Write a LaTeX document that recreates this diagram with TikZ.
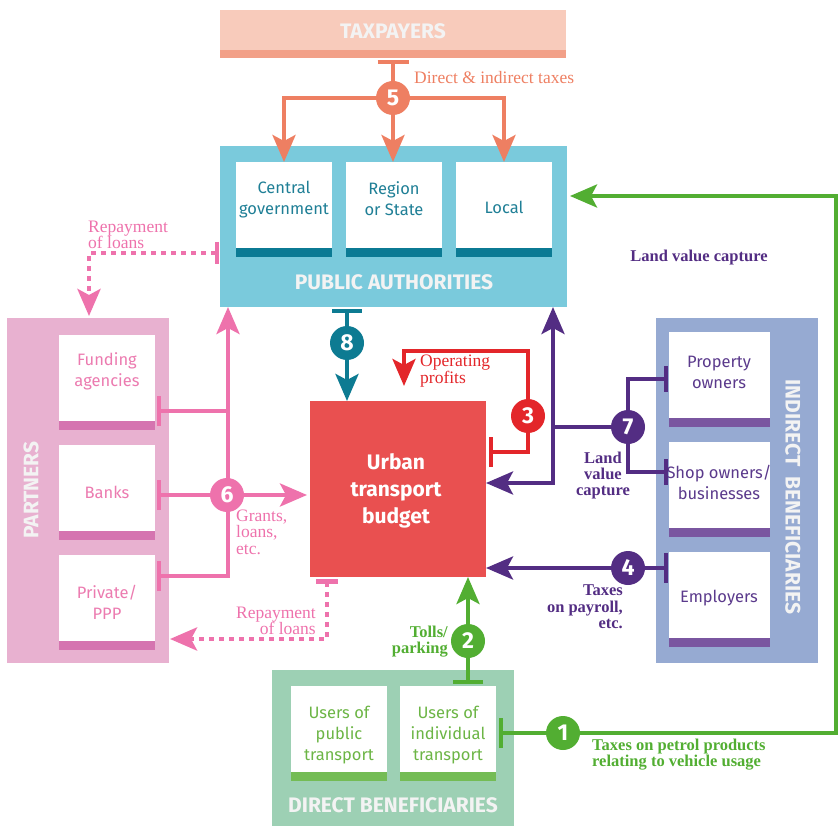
\documentclass[tikz,border=0pt]{standalone}
\usepackage{fontspec}
\setmainfont{Liberation Serif}
\setsansfont{Fira Sans}
\usetikzlibrary{arrows.meta}
\definecolor{taxfill}{HTML}{F8CBBB}
\definecolor{taxstrip}{HTML}{F2A088}
\definecolor{orangeA}{HTML}{EE7F62}
\definecolor{pubfill}{HTML}{7ACADC}
\definecolor{pubstrip}{HTML}{0B7A94}
\definecolor{pubtext}{HTML}{1F7F96}
\definecolor{tealA}{HTML}{0D7B92}
\definecolor{budgetfill}{HTML}{E95050}
\definecolor{redA}{HTML}{E3262A}
\definecolor{purpleA}{HTML}{532D83}
\definecolor{indfill}{HTML}{96AAD2}
\definecolor{indstrip}{HTML}{7A56A0}
\definecolor{indtext}{HTML}{5B3A8C}
\definecolor{greenA}{HTML}{52AE32}
\definecolor{dirfill}{HTML}{9DD0B4}
\definecolor{dirstrip}{HTML}{74BC55}
\definecolor{dirtext}{HTML}{6CB545}
\definecolor{partfill}{HTML}{E8B1D0}
\definecolor{partstrip}{HTML}{D574B0}
\definecolor{parttext}{HTML}{EC7BB0}
\definecolor{pinkA}{HTML}{EE72AC}
\definecolor{titletxt}{HTML}{F3F3F3}
\tikzset{
  >={Stealth[length=27pt,width=23pt,inset=6pt]},
  bigbox/.style={fill=#1, inner sep=0pt, outer sep=0pt, anchor=north west},
  wbox/.style={fill=white, inner sep=0pt, outer sep=0pt, anchor=north west, minimum width=96pt, minimum height=95pt},
  boxtxt/.style={text=#1, align=center, inner sep=0pt, font=\sffamily\fontsize{16.5}{21}\selectfont},
  title/.style={text=titletxt, inner sep=0pt, font=\sffamily\bfseries\fontsize{21}{22}\selectfont},
  num/.style={circle, fill=#1, text=white, minimum size=34pt, inner sep=0pt, font=\sffamily\bfseries\fontsize{23}{23}\selectfont},
  flow/.style={line width=4pt, draw=#1},
  dots/.style={line width=4.5pt, draw=#1, dash pattern=on 5pt off 5pt},
  lbl/.style={text=#1, inner sep=0pt, font=\fontsize{17.5}{16.5}\selectfont},
  blbl/.style={text=#1, inner sep=0pt, font=\bfseries\fontsize{16.5}{16}\selectfont},
}
\begin{document}
\begin{tikzpicture}[x=1pt,y=-1pt]
\useasboundingbox (0,0) rectangle (838,826);
% ---------- boxes ----------
% taxpayers
\node[bigbox=taxfill, minimum width=346pt, minimum height=48pt] (taxp) at (220,10) {};
\fill[taxstrip] ([yshift=8pt]taxp.south west) rectangle (taxp.south east);
\node[title] (ttax) at (393,31) {TAXPAYERS};
% public authorities
\node[bigbox=pubfill, minimum width=347pt, minimum height=161pt] (pub) at (220,146) {};
\node[wbox] (cg) at (236,162) {};
\node[wbox] (rs) at (346,162) {};
\node[wbox] (loc) at (456,162) {};
\foreach \b in {cg,rs,loc}{\fill[pubstrip] ([yshift=9pt]\b.south west) rectangle (\b.south east);}
\node[boxtxt=pubtext] (tcg) at (284,200) {Central\\government};
\node[boxtxt=pubtext] (trs) at (394,199) {Region\\or State};
\node[boxtxt=pubtext] (tloc) at (504,207) {Local};
\node[title] (tpub) at (394,282) {PUBLIC AUTHORITIES};
% partners
\node[bigbox=partfill, minimum width=162pt, minimum height=345pt] (part) at (7,318) {};
\node[wbox] (fund) at (59,335) {};
\node[wbox] (bank) at (59,445) {};
\node[wbox] (priv) at (59,555) {};
\foreach \b in {fund,bank,priv}{\fill[partstrip] ([yshift=9pt]\b.south west) rectangle (\b.south east);}
\node[boxtxt=parttext] (tfund) at (107,371) {Funding\\agencies};
\node[boxtxt=parttext] (tbank) at (107,492) {Banks};
\node[boxtxt=parttext] (tpriv) at (107,602) {Private/\\PPP};
\node[title, rotate=90] (tpart) at (31,490) {PARTNERS};
% indirect beneficiaries
\node[bigbox=indfill, minimum width=162pt, minimum height=345pt] (ind) at (656,318) {};
\node[wbox, minimum width=101pt] (prop) at (669,332) {};
\node[wbox, minimum width=101pt] (shop) at (669,442) {};
\node[wbox, minimum width=101pt] (empl) at (669,552) {};
\foreach \b in {prop,shop,empl}{\fill[indstrip] ([yshift=9pt]\b.south west) rectangle (\b.south east);}
\node[boxtxt=indtext] (tprop) at (719,372) {Property\\owners};
\node[boxtxt=indtext] (tshop) at (719,482) {Shop owners/\\businesses};
\node[boxtxt=indtext] (templ) at (719,598) {Employers};
\node[title, rotate=-90] (tind) at (793,497) {INDIRECT\ \ BENEFICIARIES};
% direct beneficiaries
\node[bigbox=dirfill, minimum width=242pt, minimum height=156pt] (dir) at (272,670) {};
\node[wbox] (upub) at (291,686) {};
\node[wbox] (uind) at (400,686) {};
\foreach \b in {upub,uind}{\fill[dirstrip] ([yshift=9pt]\b.south west) rectangle (\b.south east);}
\node[boxtxt=dirtext] (tupub) at (339,735) {Users of\\public\\transport};
\node[boxtxt=dirtext] (tuind) at (448,735) {Users of\\individual\\transport};
\node[title] (tdir) at (393,805) {DIRECT BENEFICIARIES};
% budget
\node[bigbox=budgetfill, minimum width=176pt, minimum height=176pt] (budget) at (310,401) {};
\node[text=white, align=center, inner sep=0pt, font=\sffamily\bfseries\fontsize{21}{27}\selectfont] (tbud) at (396,491) {Urban\\transport\\budget};
% ---------- connectors ----------
% 5 orange
\coordinate (c5p) at (393,98);
\coordinate (t5) at (393,60);
\draw[flow=orangeA,{Bar[width=31pt]}-] (t5) -- (c5p);
\draw[flow=orangeA,->] (c5p) -| (cg.north);
\draw[flow=orangeA,->] (c5p) -| (loc.north);
\draw[flow=orangeA,->] (c5p) -- (c5p |- rs.north);
\node[num=orangeA] (n5) at (c5p) {5};
% 8 teal
\coordinate (c8p) at (347,343);
\coordinate (t8) at (347,309);
\draw[flow=tealA,{Bar[width=30pt]}-] (t8) -- (c8p);
\draw[flow=tealA,->] (c8p) -- (c8p |- budget.north);
\node[num=tealA] (n8) at (c8p) {8};
% 3 red
\coordinate (t3) at (489,452);
\coordinate (r1) at (528,452);
\coordinate (r2) at (528,351);
\coordinate (r3) at (404,351);
\coordinate (r4) at (404,386);
\coordinate (c3p) at (528,416);
\draw[flow=redA,{Bar[width=30pt]}->] (t3) -- (r1) -- (r2) -- (r3) -- (r4);
\node[num=redA] (n3) at (c3p) {3};
% 7 purple
\coordinate (p0) at (553,307);
\coordinate (p1) at (553,483);
\coordinate (p2) at (486,483);
\coordinate (p3) at (553,427);
\coordinate (c7p) at (628,427);
\coordinate (t7a) at (668,379);
\coordinate (t7b) at (668,472);
\draw[flow=purpleA,<->] (p0) -- (p1) -- (p2);
\draw[flow=purpleA] (p3) -- (c7p);
\draw[flow=purpleA,-{Bar[width=26pt]}] (c7p) |- (t7a);
\draw[flow=purpleA,-{Bar[width=26pt]}] (c7p) |- (t7b);
\node[num=purpleA] (n7) at (c7p) {7};
% 4 purple
\coordinate (t4) at (668,568);
\coordinate (c4p) at (628,568);
\coordinate (e4) at (486,568);
\draw[flow=purpleA,{Bar[width=30pt]}->] (t4) -- (e4);
\node[num=purpleA] (n4) at (c4p) {4};
% 1 green
\coordinate (t1) at (499,733);
\coordinate (g1) at (836,733);
\coordinate (g2) at (836,196);
\coordinate (e1) at (570,196);
\coordinate (c1p) at (563,733);
\draw[flow=greenA,{Bar[width=30pt]}->] (t1) -- (g1) -- (g2) -- (e1);
\node[num=greenA] (n1) at (c1p) {1};
% 2 green
\coordinate (t2) at (468,684);
\coordinate (c2p) at (468,641);
\draw[flow=greenA,{Bar[width=30pt]}->] (t2) -- (t2 |- budget.south);
\node[num=greenA] (n2) at (c2p) {2};
% 6 pink
\coordinate (t6a) at (157,411);
\coordinate (t6b) at (157,495);
\coordinate (t6c) at (157,576);
\coordinate (k1) at (228,411);
\coordinate (k2) at (228,576);
\coordinate (k3) at (228,307);
\coordinate (e6) at (307,495);
\coordinate (c6p) at (227,495);
\draw[flow=pinkA,{Bar[width=30pt]}-] (t6a) -- (k1);
\draw[flow=pinkA,{Bar[width=30pt]}->] (t6c) -- (k2) -- (k3);
\draw[flow=pinkA,{Bar[width=30pt]}->] (t6b) -- (e6);
\node[num=pinkA] (n6) at (c6p) {6};
% repayment of loans (dotted)
\coordinate (d0) at (219,253);
\coordinate (d1) at (89,253);
\coordinate (d2) at (89,316);
\draw[dots=pinkA,{Bar[width=22pt]}->] (d0) -- (d1) -- (d2);
\coordinate (d3) at (327,579);
\coordinate (d4) at (327,639);
\coordinate (d5) at (170,639);
\draw[dots=pinkA,{Bar[width=22pt]}->] (d3) -- (d4) -- (d5);
% ---------- labels ----------
\node[lbl=orangeA, anchor=west] (l5) at (414,78) {Direct \& indirect taxes};
\node[lbl=redA, anchor=west, align=left] (l3) at (420,371) {Operating\\profits};
\node[blbl=purpleA] (l7a) at (699,258) {Land value capture};
\node[blbl=purpleA, align=center] (l7b) at (603,476) {Land\\value\\capture};
\node[blbl=purpleA, anchor=east, align=right, font=\bfseries\fontsize{16.5}{16.5}\selectfont] (l4) at (623,607) {Taxes\\on payroll,\\etc.};
\node[blbl=greenA, anchor=west, align=left] (l1) at (592,755) {Taxes on petrol products\\relating to vehicle usage};
\node[blbl=greenA, anchor=east, align=right] (l2) at (448,642) {Tolls/\\parking};
\node[lbl=pinkA, anchor=west, align=left] (l6) at (236,532) {Grants,\\loans,\\etc.};
\node[lbl=pinkA, anchor=west, align=left] (lr1) at (88,235) {Repayment\\of loans};
\node[lbl=pinkA, anchor=east, align=right] (lr2) at (316,621) {Repayment\\of loans};
\end{tikzpicture}
\end{document}
